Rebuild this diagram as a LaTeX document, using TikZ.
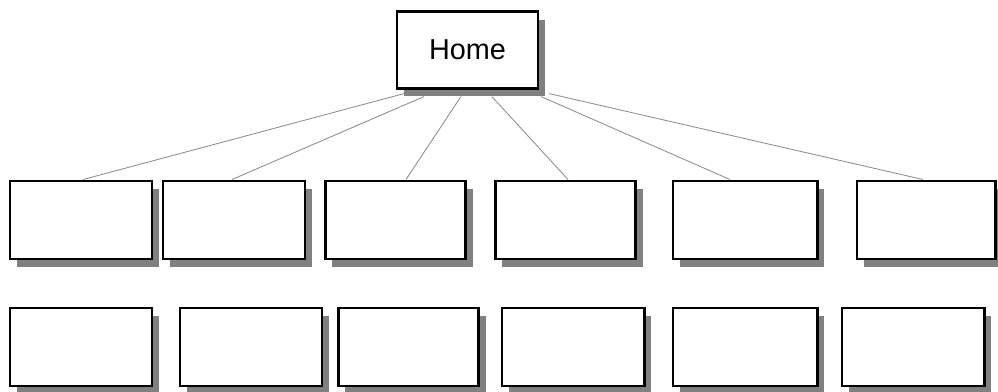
\documentclass[tikz,border=0pt]{standalone}
\usepackage{fontspec}
\setmainfont{Liberation Sans}
\usepackage{xcolor}
\usetikzlibrary{shadows, calc, positioning}
\definecolor{shade}{RGB}{128, 128, 128}
\definecolor{link}{RGB}{140, 140, 140}

\begin{document}
\begin{tikzpicture}[
    x=0.025cm, y=-0.025cm,
    page/.style={draw=black, line width=2.1pt, fill=white, minimum width=3.55cm, minimum height=1.95cm, inner sep=0pt,
        drop shadow={shadow xshift=0.18cm, shadow yshift=-0.2cm, fill=shade, opacity=1}},
    homepage/.style={page, line width=1.7pt, minimum width=3.52cm, minimum height=1.92cm, font=\fontsize{20.5}{24}\selectfont},
    link/.style={draw=link, line width=0.6pt}
]
\useasboundingbox (0,0) rectangle (998,391);

\node [homepage] (home) at (467.5,50) {Home};

% first level
\node [page] (top1) at (81,220) {};
\node [page] (top2) at (234,220) {};
\node [page, minimum width=3.52cm] (top3) at (395.5,220) {};
\node [page, minimum width=3.52cm] (top4) at (565.5,220) {};
\node [page, minimum width=3.6cm] (top5) at (745,220) {};
\node [page, minimum width=3.45cm] (top6) at (926,220) {};

% second level
\node [page] (low1) at (81,347) {};
\node [page] (low2) at (251,347) {};
\node [page, minimum width=3.52cm] (low3) at (408.5,347) {};
\node [page] (low4) at (573,347) {};
\node [page, minimum width=3.6cm] (low5) at (745,347) {};
\node [page] (low6) at (913,347) {};

\draw [link] ($(home.south west)+(8,4)$) -- ($(top1.north)+(2,0)$);
\draw [link] ($(home.south west)+(28,7)$) -- ($(top2.north)+(-2,0)$);
\draw [link] ($(home.south west)+(65,7)$) -- ($(top3.north)+(10.5,0)$);
\draw [link] ($(home.south west)+(96,7)$) -- ($(top4.north)+(2.5,0)$);
\draw [link] ($(home.south east)+(2,7)$) -- ($(top5.north)+(-15,0)$);
\draw [link] ($(home.south east)+(10,4)$) -- ($(top6.north)+(-3,0)$);
\end{tikzpicture}
\end{document}
